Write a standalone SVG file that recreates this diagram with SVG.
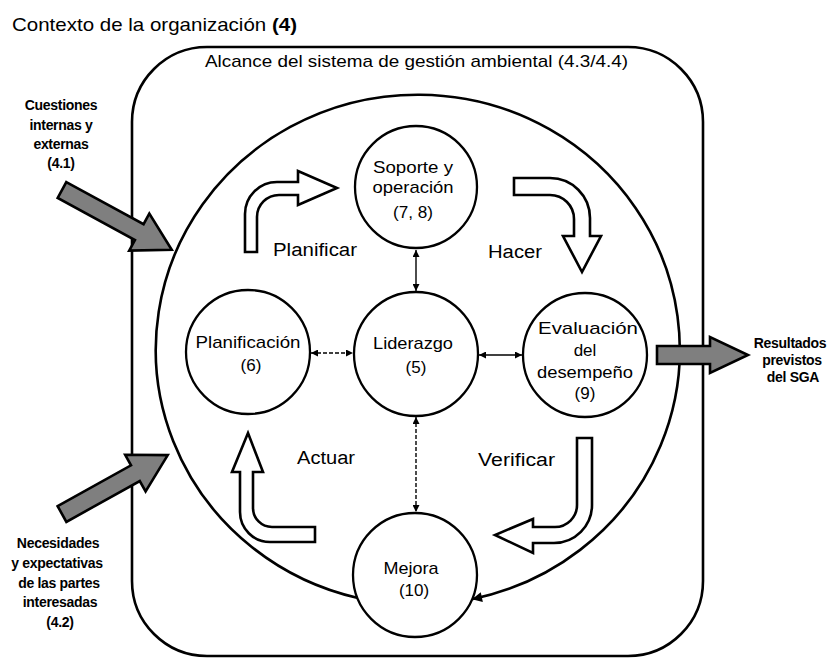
<svg xmlns="http://www.w3.org/2000/svg" width="831" height="659" viewBox="0 0 831 659">
<defs>
<style>
text{font-family:"Liberation Sans",Arial,sans-serif;fill:#000}
.t{font-size:19px}
.c{font-size:17px;text-anchor:middle}
.lab{font-size:18px}
.side{font-size:14px;font-weight:bold;text-anchor:middle;letter-spacing:-0.3px}
.node{fill:#fff;stroke:#000;stroke-width:2.3}
.frame{fill:none;stroke:#000;stroke-width:2.6}
.block{fill:#fff;stroke:#000;stroke-width:2.6;stroke-linejoin:miter}
.grey{fill:#7f7f7f;stroke:#000;stroke-width:2.6;stroke-linejoin:miter}
.con{stroke:#000;stroke-width:1.4;fill:none}
.dash{stroke-dasharray:4 2}
</style>
<marker id="ah" viewBox="0 0 10 10" refX="10" refY="5" markerWidth="8" markerHeight="7" markerUnits="userSpaceOnUse" orient="auto-start-reverse">
<path d="M0,0 L10,5 L0,10 Z" fill="#000"/>
</marker>
<marker id="big" viewBox="0 0 10 10" refX="9" refY="5" markerWidth="16" markerHeight="10" markerUnits="userSpaceOnUse" orient="auto">
<path d="M0,0 L10,5 L0,10 Z" fill="#000"/>
</marker>
</defs>
<rect width="831" height="659" fill="#fff"/>

<text class="t" x="12" y="31" textLength="285" lengthAdjust="spacingAndGlyphs">Contexto de la organización <tspan font-weight="bold">(4)</tspan></text>

<rect class="frame" x="132" y="47" width="571" height="609" rx="75" ry="75"/>
<text x="205" y="67" font-size="17" textLength="423" lengthAdjust="spacingAndGlyphs">Alcance del sistema de gestión ambiental  (4.3/4.4)</text>

<g id="big-cycle">
<path class="frame" d="M358,598 A262,255 0 1 1 473,599" marker-end="url(#big)"/>
</g>

<g id="inputs">
<polygon class="grey" transform="translate(62,190) rotate(28.6)" points="0,-9 88,-9 88,-21 125,0 88,21 88,9 0,9"/>
<polygon class="grey" transform="translate(62,514) rotate(-29.1)" points="0,-9 84,-9 84,-21 121,0 84,21 84,9 0,9"/>
<polygon class="grey" points="657,346 710,346 710,337 748,355 710,373 710,364 657,364"/>
</g>

<g id="side-labels">
<text class="side" x="61" y="110">Cuestiones</text>
<text class="side" x="61" y="130">internas y</text>
<text class="side" x="61" y="149">externas</text>
<text class="side" x="61" y="168">(4.1)</text>
<text class="side" x="58" y="548">Necesidades</text>
<text class="side" x="57" y="568">y expectativas</text>
<text class="side" x="59" y="588">de las partes</text>
<text class="side" x="60" y="607">interesadas</text>
<text class="side" x="60" y="627">(4.2)</text>
<text class="side" x="790" y="348">Resultados</text>
<text class="side" x="792" y="365">previstos</text>
<text class="side" x="793" y="382">del SGA</text>
</g>

<g id="pdca-arrows">
<path class="block" d="M245,252 V214 A32,32 0 0 1 277,182 H298 V171 L337,188 L298,205 V195 H279 A22,22 0 0 0 257,217 V252 Z"/>
<path class="block" d="M514,178 H550 A40,40 0 0 1 590,218 V236 H601 L582,272 L563,236 H574 V219 A24,24 0 0 0 550,195 H514 Z"/>
<path class="block" d="M577,438 H592 V505 A38,38 0 0 1 554,543 H533 V553 L495,535 L533,519 V527 H555 A22,22 0 0 0 577,505 Z"/>
<path class="block" d="M248,433 L263,472 H253 V508 A19,19 0 0 0 272,527 H315 V542 H270 A30,30 0 0 1 240,512 V472 H232 Z"/>
<text class="lab" x="273" y="256" textLength="84" lengthAdjust="spacingAndGlyphs">Planificar</text>
<text class="lab" x="488" y="258" textLength="54" lengthAdjust="spacingAndGlyphs">Hacer</text>
<text class="lab" x="297" y="464" textLength="58" lengthAdjust="spacingAndGlyphs">Actuar</text>
<text class="lab" x="478" y="466" textLength="77" lengthAdjust="spacingAndGlyphs">Verificar</text>
</g>

<g id="connectors">
<line class="con" x1="416" y1="250" x2="416" y2="291" marker-start="url(#ah)" marker-end="url(#ah)"/>
<line class="con dash" x1="311" y1="353" x2="353" y2="353" marker-start="url(#ah)" marker-end="url(#ah)"/>
<line class="con" x1="479" y1="355" x2="522" y2="355" marker-start="url(#ah)" marker-end="url(#ah)"/>
<line class="con dash" x1="416" y1="417" x2="416" y2="512" marker-start="url(#ah)" marker-end="url(#ah)"/>
</g>

<g id="soporte">
<circle class="node" cx="416" cy="187" r="61"/>
<text class="c" x="413" y="173" textLength="80" lengthAdjust="spacingAndGlyphs">Soporte y</text>
<text class="c" x="413" y="193" textLength="81" lengthAdjust="spacingAndGlyphs">operación</text>
<text class="c" x="413" y="218" textLength="40" lengthAdjust="spacingAndGlyphs">(7, 8)</text>
</g>
<g id="liderazgo">
<circle class="node" cx="416" cy="354" r="62"/>
<text class="c" x="413" y="349" textLength="80" lengthAdjust="spacingAndGlyphs">Liderazgo</text>
<text class="c" x="416" y="373">(5)</text>
</g>
<g id="evaluacion">
<circle class="node" cx="585" cy="355" r="62"/>
<text class="c" x="588" y="334" textLength="100" lengthAdjust="spacingAndGlyphs">Evaluación</text>
<text class="c" x="585" y="356">del</text>
<text class="c" x="585" y="378" textLength="96" lengthAdjust="spacingAndGlyphs">desempeño</text>
<text class="c" x="585" y="399">(9)</text>
</g>
<g id="planificacion">
<circle class="node" cx="248" cy="352" r="62"/>
<text class="c" x="248" y="348" textLength="105" lengthAdjust="spacingAndGlyphs">Planificación</text>
<text class="c" x="251" y="371">(6)</text>
</g>
<g id="mejora">
<circle class="node" cx="415" cy="575" r="62"/>
<text class="c" x="411" y="574" textLength="55" lengthAdjust="spacingAndGlyphs">Mejora</text>
<text class="c" x="414" y="596">(10)</text>
</g>
</svg>
